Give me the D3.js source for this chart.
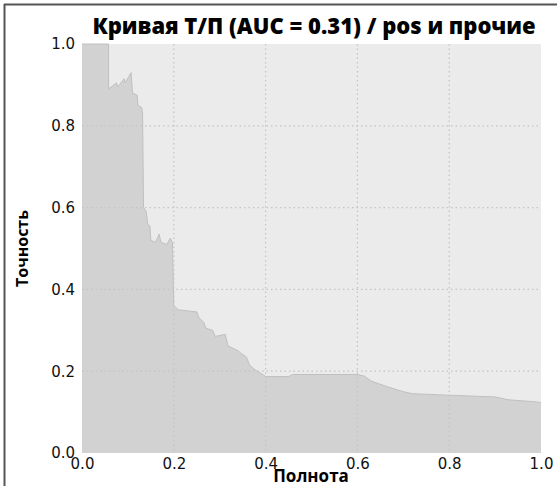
<!DOCTYPE html>
<html>
<head>
<meta charset="utf-8">
<script src="https://cdn.jsdelivr.net/npm/d3@7"></script>
<style>
  html, body { margin: 0; padding: 0; background: #fff; }
  svg { display: block; }
</style>
</head>
<body>
<svg id="chart" width="557" height="486"></svg>
<script>
// Precision-recall curve points (recall, precision)
const recall = [0.000, 0.058, 0.058, 0.075, 0.078, 0.092, 0.094, 0.107, 0.110, 0.120,
  0.122, 0.130, 0.132, 0.134, 0.140, 0.143, 0.148, 0.150, 0.160, 0.168,
  0.172, 0.185, 0.192, 0.197, 0.200, 0.210, 0.250, 0.255, 0.265, 0.270,
  0.285, 0.290, 0.312, 0.318, 0.340, 0.345, 0.358, 0.365, 0.375, 0.400,
  0.450, 0.460, 0.600, 0.615, 0.630, 0.665, 0.700, 0.720, 0.785, 0.900,
  0.930, 0.990, 1.000];
const precision = [1.000, 1.000, 0.890, 0.905, 0.895, 0.915, 0.905, 0.930, 0.880, 0.875,
  0.850, 0.845, 0.830, 0.600, 0.590, 0.560, 0.555, 0.520, 0.515, 0.535,
  0.515, 0.510, 0.525, 0.515, 0.360, 0.350, 0.345, 0.330, 0.320, 0.305,
  0.300, 0.285, 0.290, 0.262, 0.250, 0.245, 0.235, 0.215, 0.205, 0.187,
  0.187, 0.192, 0.192, 0.188, 0.176, 0.162, 0.150, 0.145, 0.142, 0.137,
  0.130, 0.125, 0.123];
const xTicks = [0, 0.2, 0.4, 0.6, 0.8, 1.0];
const yTicks = [0, 0.2, 0.4, 0.6, 0.8, 1.0];
const titleText = "Кривая Т/П (AUC = 0.31) / pos и прочие";
const xLabel = "Полнота";
const yLabel = "Точность";

const svg = d3.select("#chart");
const W = 557, H = 486;
const plot = { left: 82, right: 541, top: 44, bottom: 453 };

const x = d3.scaleLinear().domain([0, 1]).range([plot.left, plot.right]);
const y = d3.scaleLinear().domain([0, 1]).range([plot.bottom, plot.top]);

// outer frame lines
svg.append("line").attr("x1", 4.5).attr("x2", 4.5).attr("y1", 4).attr("y2", H)
  .attr("stroke", "#555").attr("stroke-width", 2);
svg.append("line").attr("x1", 4).attr("x2", W).attr("y1", 4.5).attr("y2", 4.5)
  .attr("stroke", "#555").attr("stroke-width", 2);

// plot background
svg.append("rect")
  .attr("x", plot.left).attr("y", plot.top)
  .attr("width", plot.right - plot.left).attr("height", plot.bottom - plot.top)
  .attr("fill", "#ebebeb");

// filled area under the curve
const pts = recall.map((r, i) => [r, precision[i]]);
const area = d3.area()
  .x(d => x(d[0]))
  .y0(y(0))
  .y1(d => y(d[1]));
svg.append("path").datum(pts)
  .attr("d", area)
  .attr("fill", "#d2d2d2");
const line = d3.line().x(d => x(d[0])).y(d => y(d[1]));
svg.append("path").datum(pts)
  .attr("d", line)
  .attr("fill", "none")
  .attr("stroke", "#c0c0c0")
  .attr("stroke-width", 1);

// dotted grid
const grid = svg.append("g").attr("stroke", "#c4c4c4").attr("stroke-width", 1.2)
  .attr("stroke-dasharray", "1.5,3");
xTicks.filter(t => t > 0 && t < 1).forEach(t => {
  grid.append("line").attr("x1", x(t)).attr("x2", x(t))
    .attr("y1", plot.top).attr("y2", plot.bottom);
});
yTicks.filter(t => t > 0 && t < 1).forEach(t => {
  grid.append("line").attr("y1", y(t)).attr("y2", y(t))
    .attr("x1", plot.left).attr("x2", plot.right);
});

// axes (labels only, no domain lines or tick marks)
const xAxis = d3.axisBottom(x).tickValues(xTicks).tickFormat(d3.format(".1f"))
  .tickSize(0).tickPadding(5);
const yAxis = d3.axisLeft(y).tickValues(yTicks).tickFormat(d3.format(".1f"))
  .tickSize(0).tickPadding(7);
const gx = svg.append("g").attr("transform", `translate(0,${plot.bottom})`).call(xAxis);
const gy = svg.append("g").attr("transform", `translate(${plot.left},0)`).call(yAxis);
[gx, gy].forEach(g => {
  g.select(".domain").remove();
  g.selectAll("text")
    .attr("font-family", "DejaVu Sans, sans-serif")
    .attr("font-size", 15)
    .attr("fill", "#111");
});

// title and axis titles
svg.append("text")
  .attr("x", 314).attr("y", 34)
  .attr("text-anchor", "middle")
  .attr("font-family", "Open Sans, sans-serif")
  .attr("font-weight", 800)
  .attr("font-size", 22)
  .attr("fill", "#000")
  .text(titleText);
svg.append("text")
  .attr("x", 311).attr("y", 482)
  .attr("text-anchor", "middle")
  .attr("font-family", "Open Sans, sans-serif")
  .attr("font-weight", "bold")
  .attr("font-size", 17)
  .attr("fill", "#000")
  .text(xLabel);
svg.append("text")
  .attr("transform", `translate(28,${(plot.top + plot.bottom) / 2}) rotate(-90)`)
  .attr("text-anchor", "middle")
  .attr("font-family", "Open Sans, sans-serif")
  .attr("font-weight", "bold")
  .attr("font-size", 16)
  .attr("fill", "#000")
  .text(yLabel);
</script>
</body>
</html>
